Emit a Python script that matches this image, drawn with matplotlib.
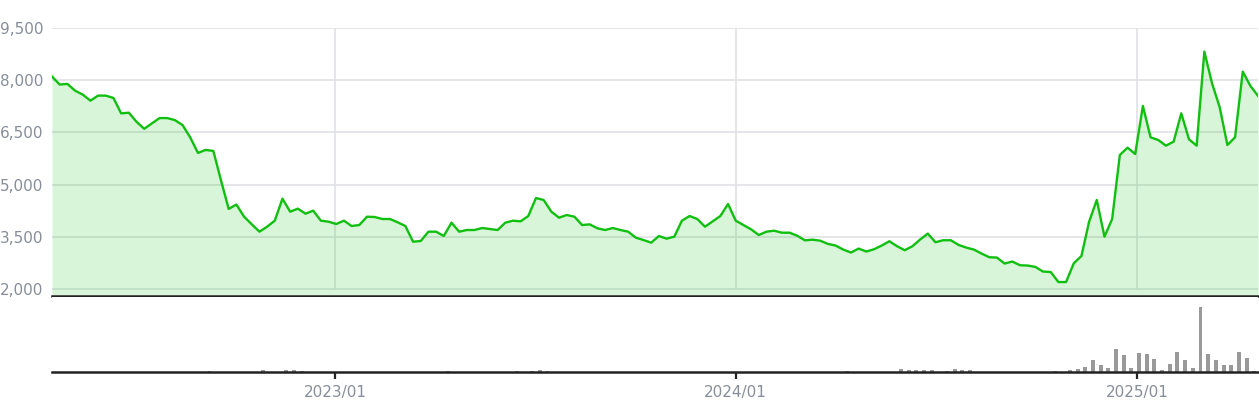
import matplotlib.pyplot as plt
import matplotlib.dates as mdates
import pandas as pd

# weekly closes
price = [
    8106, 7875, 7894, 7700, 7586, 7413, 7557, 7557, 7490, 7047,
    7066, 6806, 6604, 6758, 6912, 6912, 6854, 6710, 6353, 5910,
    5997, 5968, 5120, 4302, 4427, 4080, 3860, 3648, 3791, 3964,
    4596, 4222, 4309, 4165, 4251, 3964, 3935, 3868, 3964, 3811,
    3839, 4079, 4069, 4012, 4012, 3916, 3811, 3360, 3380, 3648,
    3648, 3523, 3906, 3648, 3696, 3696, 3753, 3724, 3696, 3906,
    3964, 3945, 4098, 4615, 4558, 4223, 4050, 4127, 4079, 3839,
    3858, 3744, 3696, 3753, 3696, 3648, 3475, 3408, 3332, 3523,
    3447, 3504, 3964, 4098, 4012, 3791, 3945, 4098, 4443, 3964,
    3839, 3715, 3552, 3648, 3676, 3619, 3619, 3533, 3399, 3418,
    3389, 3297, 3249, 3134, 3048, 3163, 3077, 3143, 3249, 3373,
    3230, 3115, 3230, 3421, 3593, 3344, 3402, 3402, 3268, 3191,
    3134, 3019, 2914, 2904, 2732, 2790, 2684, 2675, 2636, 2502,
    2490, 2201, 2201, 2738, 2948, 3935, 4558, 3504, 4012, 5851,
    6062, 5880, 7259, 6359, 6282, 6119, 6234, 7049, 6301, 6119,
    8821, 7911, 7221, 6138, 6359, 8246, 7834, 7547,
]

volume = [
    0, 0, 0, 0, 0, 0, 0, 0, 0, 0,
    0, 0, 0, 0, 0, 0, 0, 0, 0, 0,
    0, 10, 0, 0, 0, 0, 0, 0, 20, 0,
    0, 20, 20, 15, 0, 0, 0, 0, 0, 0,
    0, 0, 0, 0, 0, 0, 0, 0, 0, 0,
    0, 0, 10, 0, 0, 0, 0, 0, 0, 0,
    0, 10, 0, 15, 20, 15, 0, 0, 0, 0,
    0, 0, 0, 0, 0, 0, 0, 0, 0, 0,
    0, 0, 0, 0, 0, 0, 0, 0, 0, 0,
    0, 0, 0, 0, 0, 0, 0, 0, 0, 0,
    0, 0, 0, 0, 10, 0, 0, 0, 0, 0,
    0, 30, 17, 20, 17, 17, 0, 15, 30, 17,
    17, 0, 0, 0, 0, 0, 0, 0, 0, 0,
    0, 10, 0, 23, 33, 53, 123, 73, 43, 233,
    173, 43, 193, 183, 133, 23, 83, 203, 123, 43,
    653, 183, 123, 73, 73, 203, 143, 13,
]

dates = pd.date_range("2022-04-18", periods=len(price), freq="7D")
yticks = [2000, 3500, 5000, 6500, 8000, 9500]
year_ticks = pd.to_datetime(["2023-01-01", "2024-01-01", "2025-01-01"])

LINE = "#10bf10"
FILL = (0.0, 0.75, 0.0, 0.15)
GRID = "#dfe1e5"
LABEL = "#878e99"
AXIS = "#222222"


def create_chart(filepath):
    fig = plt.figure(figsize=(12.59, 4.0), dpi=100)
    ax = fig.add_axes([0.0413, 0.26, 0.958, 0.67])
    vax = fig.add_axes([0.0413, 0.07, 0.958, 0.1875], sharex=ax)

    # price panel
    ax.fill_between(dates, price, 1800, color=FILL, lw=0, zorder=2)
    ax.plot(dates, price, color=LINE, lw=1.7, zorder=3)
    for y in yticks:
        ax.axhline(y, color=GRID, lw=1.2, zorder=1)
    ax.vlines(year_ticks, 2000, 9500, color=GRID, lw=1.2, zorder=1)

    ax.set_ylim(1800, 9500)
    ax.set_yticks(yticks)
    ax.set_yticklabels([f"{v:,}" for v in yticks])
    ax.tick_params(axis="y", length=0, pad=6, labelsize=11, labelcolor=LABEL)
    ax.tick_params(axis="x", length=0, labelbottom=False)
    for side in ["top", "right", "left"]:
        ax.spines[side].set_visible(False)
    ax.spines["bottom"].set_color(AXIS)
    ax.spines["bottom"].set_linewidth(1.8)

    # volume panel
    vax.bar(dates - pd.Timedelta(days=3.5), volume, width=3.6, color="#999999")
    vax.set_ylim(0, 750)
    vax.set_yticks([])
    vax.set_xlim(dates[0], dates[-1])
    vax.set_xticks(year_ticks)
    vax.xaxis.set_major_formatter(mdates.DateFormatter("%Y/%m"))
    vax.tick_params(axis="x", length=5, width=1.6, color=AXIS, pad=4,
                    labelsize=11, labelcolor=LABEL)
    for side in ["top", "right", "left"]:
        vax.spines[side].set_visible(False)
    vax.spines["bottom"].set_color(AXIS)
    vax.spines["bottom"].set_linewidth(1.8)

    fig.savefig(filepath, dpi=100)


if __name__ == "__main__":
    create_chart("out.png")
